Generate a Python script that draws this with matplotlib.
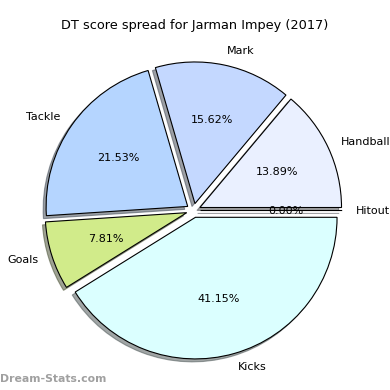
import matplotlib
matplotlib.use("Agg")
import matplotlib.pyplot as plt

labels = ["Hitout", "Handball", "Mark", "Tackle", "Goals", "Kicks"]
values = [0.00, 13.89, 15.62, 21.53, 7.81, 41.15]
colors = ["#e0ecff", "#eaf0ff", "#c4d8ff", "#b5d5ff", "#d1eb8a", "#dbffff"]
explode = [0.05] * len(values)

W = 390.0
fig = plt.figure(figsize=(3.9, 3.9), dpi=100)
ax = fig.add_axes([16.5 / W, 2.5 / W, 354 / W, 354 / W])
wedges, texts, autotexts = ax.pie(
    values, labels=labels, colors=colors, explode=explode, startangle=0,
    autopct="%1.2f%%", shadow={"ox": -0.015, "oy": -0.015, "shade": 0.7},
    wedgeprops=dict(edgecolor="black", linewidth=0.8),
    textprops=dict(fontsize=8),
)
ax.set_xlim(-1.25, 1.25)
ax.set_ylim(-1.25, 1.25)
ax.set_aspect("equal")

fig.text(0.5, 1 - 25.5 / W, "DT score spread for Jarman Impey (2017)",
         ha="center", va="center", fontsize=9.3)
fig.text(0.0, 1 - 379 / W, "Dream-Stats.com", ha="left", va="center",
         fontsize=7.8, color="#a0a0a0", fontweight="bold")

fig.savefig("out.png", dpi=100)
